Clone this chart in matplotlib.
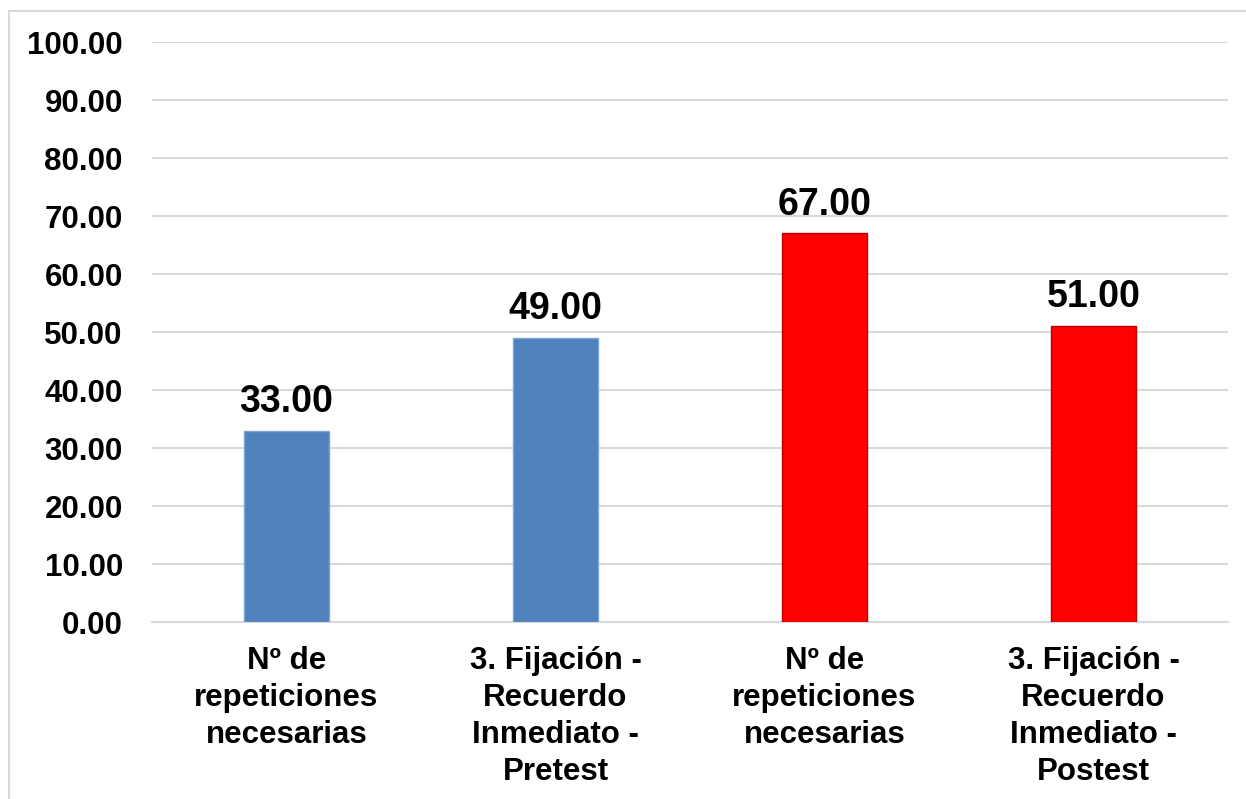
import matplotlib
matplotlib.use("Agg")
import matplotlib.pyplot as plt
from matplotlib.patches import Rectangle

# Data
categories = [
    "Nº de\nrepeticiones\nnecesarias",
    "3. Fijación -\nRecuerdo\nInmediato -\nPretest",
    "Nº de\nrepeticiones\nnecesarias",
    "3. Fijación -\nRecuerdo\nInmediato -\nPostest",
]
values = [33.00, 49.00, 67.00, 51.00]
bar_colors = ["#4F81BD", "#4F81BD", "#FF0000", "#FF0000"]
edge_colors = ["#7FA3D3", "#7FA3D3", "#C00000", "#C00000"]
y_ticks = [0, 10, 20, 30, 40, 50, 60, 70, 80, 90, 100]

plt.rcParams["font.family"] = ["Liberation Sans", "DejaVu Sans"]
plt.rcParams["font.weight"] = "bold"

W, H = 1246, 799
fig = plt.figure(figsize=(W / 100, H / 100), dpi=100)
fig.patch.set_facecolor("white")

# Outer chart frame (extends past the right and bottom edges)
fig.patches.append(Rectangle((9 / W, -0.05), 1.1, 1 - 11 / H + 0.05,
                             transform=fig.transFigure, fill=False,
                             edgecolor="#D9D9D9", linewidth=1.5))

left, right = 152 / W, 1228 / W
bottom, top = 1 - 622 / H, 1 - 42 / H
ax = fig.add_axes([left, bottom, right - left, top - bottom])

x = list(range(len(values)))
bars = ax.bar(x, values, width=0.315, color=bar_colors,
              edgecolor=edge_colors, linewidth=1.0, zorder=3)

ax.set_xlim(-0.5, len(values) - 0.5)
ax.set_ylim(0, 100)
ax.set_yticks(y_ticks)
ax.set_yticklabels([f"{v:.2f}" for v in y_ticks], fontsize=22.5, fontweight="bold")
ax.set_xticks(x)
ax.set_xticklabels(categories, fontsize=22.5, fontweight="bold",
                   linespacing=1.31)

ax.tick_params(axis="y", length=0, pad=21)
ax.tick_params(axis="x", length=0, pad=17)

ax.grid(axis="y", color="#D9D9D9", linewidth=1.5, zorder=0)
ax.set_axisbelow(True)
for side in ["top", "right", "left"]:
    ax.spines[side].set_visible(False)
ax.spines["bottom"].set_color("#D9D9D9")
ax.spines["bottom"].set_linewidth(1.5)

for rect, v in zip(bars, values):
    ax.annotate(f"{v:.2f}", (rect.get_x() + rect.get_width() / 2, v),
                xytext=(0, 13.5), textcoords="offset points",
                ha="center", va="baseline", fontsize=27, fontweight="bold")

fig.savefig("out.png", dpi=100, facecolor="white")
